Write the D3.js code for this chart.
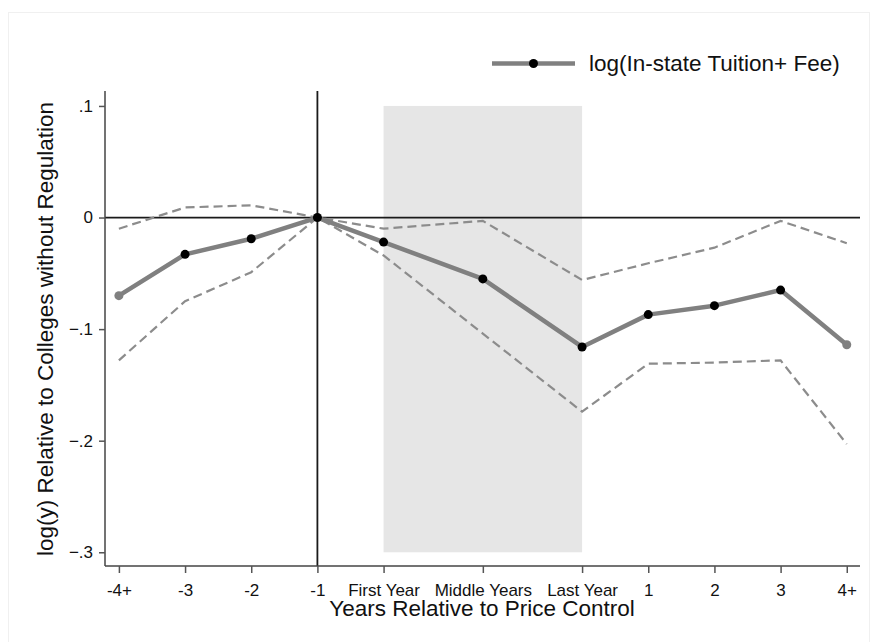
<!DOCTYPE html>
<html lang="en">
<head>
<meta charset="UTF-8">
<title>Price control event study</title>
<script src="https://d3js.org/d3.v7.min.js"></script>
<style>
  body { margin: 0; background: #fff; }
  text { font-family: Arial, "Liberation Sans", sans-serif; fill: #111; }
</style>
</head>
<body>
<div id="chart"></div>
<script>
// periods relative to the price control (First/Middle/Last year sit on a wider spacing)
const periods = [-4, -3, -2, -1, 0, 1.5, 3, 4, 5, 6, 7];
const tickLabels = ["-4+", "-3", "-2", "-1", "First Year", "Middle Years", "Last Year", "1", "2", "3", "4+"];

// point estimates and confidence bands
const estimate = [-0.070, -0.033, -0.019, 0, -0.022, -0.055, -0.116, -0.087, -0.079, -0.065, -0.114];
const upperCI  = [-0.010, 0.009, 0.011, 0, -0.010, -0.003, -0.056, -0.041, -0.027, -0.003, -0.023];
const lowerCI  = [-0.128, -0.075, -0.049, 0, -0.034, -0.104, -0.174, -0.131, -0.130, -0.128, -0.203];

const yTicks = [0.1, 0, -0.1, -0.2, -0.3];
const shadeRange = [0, 3];      // regulation window
const legendLabel = "log(In-state Tuition+ Fee)";

const W = 870, H = 642;
const svg = d3.select("#chart").append("svg")
  .attr("width", W).attr("height", H);

// faint outer frame
svg.append("rect")
  .attr("x", 8.5).attr("y", 12.5).attr("width", W - 9).attr("height", H - 12)
  .attr("fill", "none").attr("stroke", "#f0f0f0");

const plotL = 105, plotR = 860, plotT = 91, plotB = 566;

const x = d3.scaleLinear().domain([-4.21, 7.2]).range([plotL, plotR]);
const y = d3.scaleLinear().domain([-0.3123, 0.1134]).range([plotB, plotT]);

// shaded regulation period
svg.append("rect")
  .attr("x", x(shadeRange[0])).attr("y", y(0.1))
  .attr("width", x(shadeRange[1]) - x(shadeRange[0]))
  .attr("height", y(-0.3) - y(0.1))
  .attr("fill", "#e6e6e6");

// reference lines
svg.append("line")
  .attr("x1", plotL).attr("x2", plotR).attr("y1", y(0)).attr("y2", y(0))
  .attr("stroke", "#1a1a1a").attr("stroke-width", 1.8);
svg.append("line")
  .attr("x1", x(-1)).attr("x2", x(-1)).attr("y1", plotT).attr("y2", plotB)
  .attr("stroke", "#1a1a1a").attr("stroke-width", 1.8);

// axes
const yAxis = svg.append("g")
  .attr("transform", `translate(${plotL},0)`)
  .call(d3.axisLeft(y).tickValues(yTicks).tickSize(6).tickPadding(6)
    .tickFormat(d => d === 0 ? "0" : d3.format(".1f")(d).replace("0.", ".")));
yAxis.select(".domain").attr("d", `M0,${plotT}V${plotB}`);

const xAxis = svg.append("g")
  .attr("transform", `translate(0,${plotB})`)
  .call(d3.axisBottom(x).tickValues(periods).tickSize(7).tickPadding(11)
    .tickFormat((d, i) => tickLabels[i]));
xAxis.select(".domain").attr("d", `M${plotL},0H${plotR}`);

svg.selectAll(".domain").attr("stroke", "#444").attr("stroke-width", 1.5);
svg.selectAll(".tick line").attr("stroke", "#555").attr("stroke-width", 1.5);
svg.selectAll(".tick text").style("font-size", "17px").attr("fill", "#111")
  .style("font-family", "Arial, 'Liberation Sans', sans-serif");

// axis titles
svg.append("text")
  .attr("transform", `translate(53,329) rotate(-90)`)
  .attr("text-anchor", "middle")
  .style("font-size", "22.5px")
  .text("log(y) Relative to Colleges without Regulation");

svg.append("text")
  .attr("x", 482).attr("y", 616)
  .attr("text-anchor", "middle")
  .style("font-size", "22.5px")
  .text("Years Relative to Price Control");

// confidence bands
const line = d3.line().x((d, i) => x(periods[i])).y(d => y(d));
[upperCI, lowerCI].forEach(s => {
  svg.append("path")
    .attr("d", line(s))
    .attr("fill", "none").attr("stroke", "#8c8c8c")
    .attr("stroke-width", 2.2).attr("stroke-dasharray", "9,5");
});

// point estimates
svg.append("path")
  .attr("d", line(estimate))
  .attr("fill", "none").attr("stroke", "#808080")
  .attr("stroke-width", 4.5).attr("stroke-linejoin", "round");

svg.selectAll(".pt")
  .data(estimate)
  .enter().append("circle")
  .attr("class", "pt")
  .attr("cx", (d, i) => x(periods[i]))
  .attr("cy", d => y(d))
  .attr("r", 4.5)
  .attr("fill", (d, i) => (i === 0 || i === estimate.length - 1) ? "#808080" : "#000");

// legend
const lg = svg.append("g").attr("transform", "translate(492,63.5)");
lg.append("line").attr("x1", 0).attr("x2", 83).attr("y1", 0).attr("y2", 0)
  .attr("stroke", "#808080").attr("stroke-width", 4.5);
lg.append("circle").attr("cx", 41.5).attr("cy", 0).attr("r", 4.5).attr("fill", "#000");
lg.append("text").attr("x", 97).attr("y", 7.5)
  .style("font-size", "22.5px")
  .text(legendLabel);
</script>
</body>
</html>
